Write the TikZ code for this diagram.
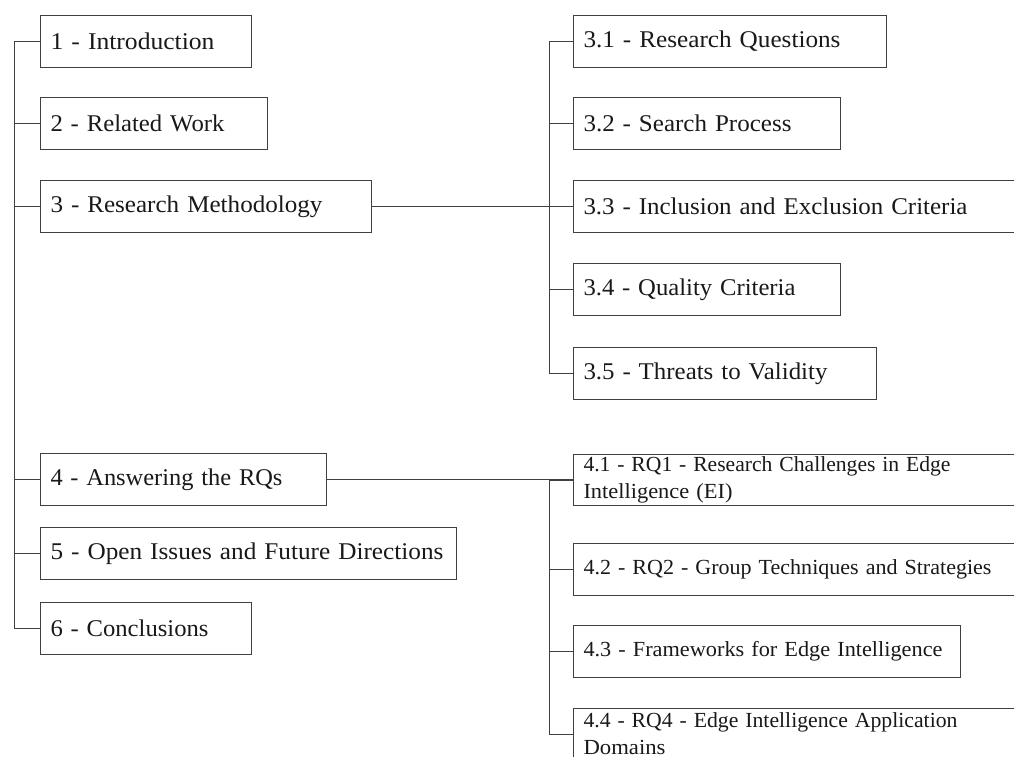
\documentclass[tikz,border=0pt]{standalone}
\usepackage{fontspec}
\usepackage{graphicx}
\setmainfont[FakeStretch=1.05]{Liberation Serif}
\newcommand\fw[2]{\resizebox{#1}{\height}{#2}}
\begin{document}
\begin{tikzpicture}[x=1pt,y=-1pt,
  box/.style={draw=black!75, line width=1pt, rectangle, anchor=north west,
    minimum height=52pt, inner xsep=10pt, inner ysep=0pt, text width=#1, align=left,
    font=\fontsize{24}{27}\selectfont, text=black!90},
  small/.style={font=\fontsize{21.5}{27}\selectfont},
  link/.style={draw=black!75, line width=1pt}]
\clip (0,0) rectangle (1014,756);
\fill[white] (0,0) rectangle (1014,756);
% main column
\node[box=191pt] (n1) at (40,15) {\fw{164pt}{1 - Introduction}};
\node[box=207pt] (n2) at (40,97) {\fw{174pt}{2 - Related Work}};
\node[box=311pt] (n3) at (40,180) {\fw{272pt}{3 - Research Methodology}};
\node[box=266pt] (n4) at (40,453) {\fw{232pt}{4 - Answering the RQs}};
\node[box=396pt] (n5) at (40,527) {\fw{393pt}{5 - Open Issues and Future Directions}};
\node[box=191pt] (n6) at (40,602) {\fw{158pt}{6 - Conclusions}};
% section 3
\node[box=293pt] (s31) at (573,15) {\fw{257pt}{3.1 - Research Questions}};
\node[box=247pt] (s32) at (573,97) {\fw{208pt}{3.2 - Search Process}};
\node[box=440pt] (s33) at (573,180) {\fw{384pt}{3.3 - Inclusion and Exclusion Criteria}};
\node[box=247pt] (s34) at (573,263) {\fw{212pt}{3.4 - Quality Criteria}};
\node[box=283pt] (s35) at (573,347) {\fw{244pt}{3.5 - Threats to Validity}};
% section 4
\node[box=440pt, small, minimum height=51pt] (s41) at (573,454) {\fw{367pt}{4.1 - RQ1 - Research Challenges in Edge}\\\fw{149pt}{Intelligence (EI)}};
\node[box=440pt, small] (s42) at (573,543) {\fw{408pt}{4.2 - RQ2 - Group Techniques and Strategies}};
\node[box=367pt, small] (s43) at (573,625) {\fw{359pt}{4.3 - Frameworks for Edge Intelligence}};
\node[box=440pt, small, minimum height=51pt] (s44) at (573,708) {\fw{374pt}{4.4 - RQ4 - Edge Intelligence Application}\\\fw{82pt}{Domains}};
% connectors
\draw[link] (n1.west) -- ++(-26,0) |- (n6.west);
\foreach \n in {n2,n3,n4,n5} \draw[link] (\n.west) -- ++(-26,0);
\draw[link] (n3.east) -- (s33.west);
\draw[link] (n4.east) -- (n4.east -| s41.west);
\draw[link] (s31.west) -- ++(-24,0) |- (s35.west);
\foreach \n in {s32,s33,s34} \draw[link] (\n.west) -- ++(-24,0);
\draw[link] (s41.west) -- ++(-24,0) |- (s44.west);
\foreach \n in {s42,s43} \draw[link] (\n.west) -- ++(-24,0);
\end{tikzpicture}
\end{document}
